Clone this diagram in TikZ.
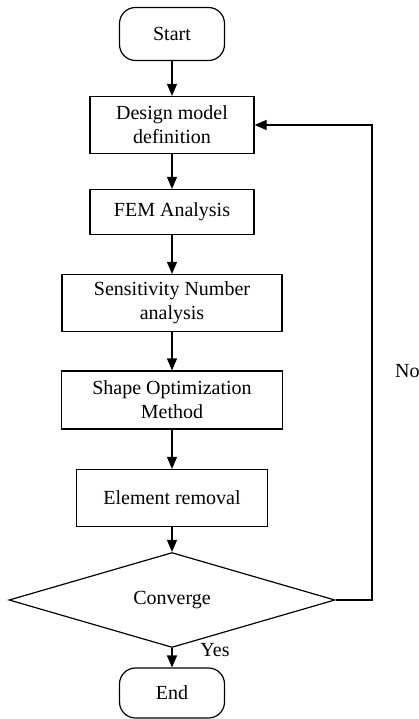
\documentclass[tikz,border=0pt]{standalone}
\usepackage{fontspec}
\setmainfont{Liberation Serif}
\usetikzlibrary{arrows.meta,shapes.geometric}

\begin{document}
\begin{tikzpicture}[x=1pt,y=-1pt,
        font=\fontsize{20}{24}\selectfont,
        box/.style={draw,line width=1.2pt,align=center,inner sep=0pt},
        term/.style={box,rounded corners=16pt},
        arrow/.style={line width=1.2pt,-{Triangle[length=12pt,width=10pt]}}]
        \useasboundingbox (0,0) rectangle (419,719);
        \coordinate (pstart)  at (172, 34);
        \coordinate (pdesign) at (172,125);
        \coordinate (pfem)    at (172,212);
        \coordinate (psens)   at (172,303);
        \coordinate (pshape)  at (172,400);
        \coordinate (pelem)   at (172,498);
        \coordinate (pconv)   at (172,600);
        \coordinate (pend)    at (172,693);
        \node[term,minimum width=105pt,minimum height=53pt] (start)  at (pstart)  {Start};
        \node[box,minimum width=164pt,minimum height=57pt]  (design) at (pdesign) {Design model\\definition};
        \node[box,minimum width=164pt,minimum height=45pt]  (fem)    at (pfem)    {FEM Analysis};
        \node[box,minimum width=220pt,minimum height=57pt]  (sens)   at (psens)   {Sensitivity Number\\analysis};
        \node[box,minimum width=221pt,minimum height=58pt]  (shape)  at (pshape)  {Shape Optimization\\Method};
        \node[box,minimum width=191pt,minimum height=57pt]  (elem)   at (pelem)   {Element removal};
        \node[box,diamond,minimum width=326pt,minimum height=69pt] (conv) at (pconv) {Converge};
        \node[term,minimum width=105pt,minimum height=50pt] (end)    at (pend)    {End};
        \coordinate (loop) at (372,600);
        \draw[arrow] (start)  -- (design);
        \draw[arrow] (design) -- (fem);
        \draw[arrow] (fem)    -- (sens);
        \draw[arrow] (sens)   -- (shape);
        \draw[arrow] (shape)  -- (elem);
        \draw[arrow] (elem)   -- (conv);
        \draw[arrow] (conv)   -- (end);
        \draw[arrow] (conv.east) -- (loop) |- (design.east);
        \node (yes) at (215,650) {Yes};
        \node[anchor=west,inner sep=0pt] (no) at (395,371) {No};
      \end{tikzpicture}
\end{document}
